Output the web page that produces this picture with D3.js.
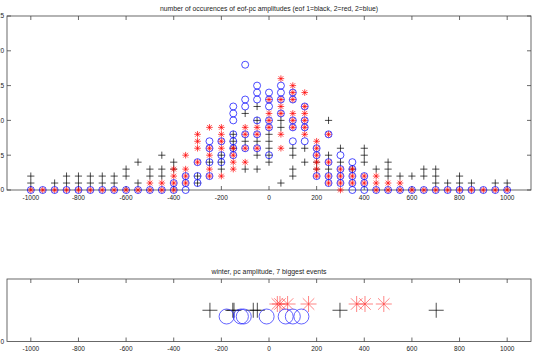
<!DOCTYPE html>
<html>
  <head>
  <title>eof-pc amplitudes</title>
  <style>
    body, html {
      margin: 0;
      padding: 0;
      background: #fff;
    }
    text {
      font-family: "Liberation Sans", Arial, sans-serif;
      fill: #222;
    }
  </style>
  </head>
  <body>

  <svg id="svg" width="538" height="359"></svg>

  <script src="https://d3js.org/d3.v7.min.js"></script>
  <script>
    // amplitude bins of the histogram
    const bins = [-1000, -950, -900, -850, -800, -750, -700, -650, -600, -550,
      -500, -450, -400, -350, -300, -250, -200, -150, -100, -50, 0,
      50, 100, 150, 200, 250, 300, 350, 400, 450, 500, 550, 600, 650,
      700, 750, 800, 850, 900, 950, 1000]

    // counts seen in each bin (one list per bin)
    const eof1Counts = [[1,2],[],[1],[1,2],[1,2],[1,2],[1,2],[1,2],[2,3],[1,4],
      [2,3],[2,3,5],[3,4],[],[1,2],[4],[3,4,5],[6,7,8],[3,7,11],[3,5,7,10,12],[4,5,6,7,8],
      [1,9,10],[2,3,5,6],[4,6],[3,4],[3,5,10],[4,6],[3],[4,5,6],[3],[2,3,4],[2],[2],[2,3],
      [1,2,3],[1],[1,2],[1],[],[1],[1]]
    const eof2Counts = [[0],[0],[0],[0],[0],[0],[0],[0],[0],[0],
      [0,1],[0,1],[0,1,2,3],[1,2,3,5],[4,6,7,8],[2,3,5,6,9],[2,6,7,8,9],[3,4,5,6],[4,6,8,9],[6,8,9],[9,10,11,13],
      [6,8,11,12,13,16],[9,10,11,13,14,15],[8,9,10,11,12,14],[2,3,4,5,6,7],[1,2,4,8],[0,1,2,3],[1,2,3],[1,2],[0,1,2],[0,1],[0,1],[0],[0],
      [0],[0],[0],[0],[0],[0],[0]]
    const eof3Counts = [[0],[0],[0],[0],[0],[0],[0],[0],[0],[0],
      [0],[0],[0,1],[0,1,2],[1,2,4],[2,4,6,7],[4,5,7],[5,6,7,8,10,11,12],[6,8,12,13,18],[6,8,10,13,14,15],[5,9,10,12,13,14],
      [11,13,14,15],[7,9,10,13,14],[7,9,10,12],[2,5,6],[1,2,4,8],[1,2,3,5],[0,1,2,3,4],[0,1,2],[0],[0],[0],[0],[0],
      [0],[0],[0],[0],[0],[0],[0]]

    // winter, 7 biggest events
    const eof1Events = [-248, -152, -147, -66, -49, 298, 702]
    const eof2Events = [35, 46, 78, 166, 368, 403, 482]
    const eof3Events = [-178, -118, -106, -10, 70, 100, 136]
    const eventLevel = { eof1: 0.5, eof2: 0.6, eof3: 0.4 }

    const xTicks = [-1000, -800, -600, -400, -200, 0, 200, 400, 600, 800, 1000]
    const yTicks = [0, 5, 10, 15, 20, 25]

    const svg = d3.select('#svg')
    const axisColor = '#444'

    const plusPath = s => `M${-s},0H${s}M0,${-s}V${s}`
    const starPath = s => {
      const d = s * 0.72
      return plusPath(s) + `M${-d},${-d}L${d},${d}M${-d},${d}L${d},${-d}`
    }

    function frame(g, x, y, yLabels, title, titleLen) {
      const [x0, x1] = x.range()
      const [y0, y1] = y.range()
      g.append('rect')
        .attr('x', x0).attr('y', y1)
        .attr('width', x1 - x0).attr('height', y0 - y1)
        .attr('fill', 'none').attr('stroke', axisColor).attr('stroke-width', 0.8)
      xTicks.forEach(t => {
        g.append('path')
          .attr('d', `M${x(t)},${y0}v-4M${x(t)},${y1}v4`)
          .attr('stroke', axisColor).attr('stroke-width', 0.8)
        g.append('text')
          .attr('x', x(t)).attr('y', y0 + 9.5)
          .attr('text-anchor', 'middle')
          .attr('font-size', 6.5)
          .text(t)
      })
      yLabels.forEach(t => {
        g.append('path')
          .attr('d', `M${x0},${y(t)}h4M${x1},${y(t)}h-4`)
          .attr('stroke', axisColor).attr('stroke-width', 0.8)
        g.append('text')
          .attr('x', x0 - 3).attr('y', y(t) + 2.3)
          .attr('text-anchor', 'end')
          .attr('font-size', 6.5)
          .text(t)
      })
      g.append('text')
        .attr('x', (x0 + x1) / 2).attr('y', y1 - 5)
        .attr('text-anchor', 'middle')
        .attr('font-size', 6.5)
        .attr('textLength', titleLen)
        .attr('lengthAdjust', 'spacingAndGlyphs')
        .text(title)
    }

    // top panel: histogram counts
    const x = d3.scaleLinear().domain([-1100, 1100]).range([7, 531])
    const y = d3.scaleLinear().domain([0, 25]).range([190, 16])
    const histPanel = svg.append('g')
    frame(histPanel, x, y, yTicks, 'number of occurences of eof-pc amplitudes (eof 1=black, 2=red, 2=blue)', 218)

    const flat = counts => counts.flatMap((list, i) => list.map(c => ({ bin: bins[i], c })))

    histPanel.append('g').selectAll('path')
      .data(flat(eof1Counts)).join('path')
      .attr('transform', d => `translate(${x(d.bin)},${y(d.c)})`)
      .attr('d', plusPath(3.6))
      .attr('stroke', '#000').attr('stroke-width', 0.7).attr('fill', 'none')

    histPanel.append('g').selectAll('path')
      .data(flat(eof2Counts)).join('path')
      .attr('transform', d => `translate(${x(d.bin)},${y(d.c)})`)
      .attr('d', starPath(3.3))
      .attr('stroke', '#f00').attr('stroke-width', 0.7).attr('fill', 'none')

    histPanel.append('g').selectAll('circle')
      .data(flat(eof3Counts)).join('circle')
      .attr('cx', d => x(d.bin))
      .attr('cy', d => y(d.c))
      .attr('r', 3.5)
      .attr('stroke', '#00f').attr('stroke-width', 0.7).attr('fill', 'none')

    // bottom panel: 7 biggest winter events
    const y2 = d3.scaleLinear().domain([0, 1]).range([341.5, 279])
    const eventPanel = svg.append('g')
    frame(eventPanel, x, y2, [], 'winter, pc amplitude, 7 biggest events', 115)
    eventPanel.append('text')
      .attr('x', 4).attr('y', y2(0) + 2.3)
      .attr('text-anchor', 'end')
      .attr('font-size', 6.5)
      .text(0)

    eventPanel.append('g').selectAll('path')
      .data(eof1Events).join('path')
      .attr('transform', d => `translate(${x(d)},${y2(eventLevel.eof1)})`)
      .attr('d', plusPath(7.5))
      .attr('stroke', '#000').attr('stroke-width', 0.7).attr('fill', 'none')

    eventPanel.append('g').selectAll('path')
      .data(eof2Events).join('path')
      .attr('transform', d => `translate(${x(d)},${y2(eventLevel.eof2)})`)
      .attr('d', starPath(8))
      .attr('stroke', '#f33').attr('stroke-width', 0.6).attr('fill', 'none')

    eventPanel.append('g').selectAll('circle')
      .data(eof3Events).join('circle')
      .attr('cx', d => x(d))
      .attr('cy', d => y2(eventLevel.eof3))
      .attr('r', 7.5)
      .attr('stroke', '#22f').attr('stroke-width', 0.7).attr('fill', 'none')
  </script>
  </body>
</html>
